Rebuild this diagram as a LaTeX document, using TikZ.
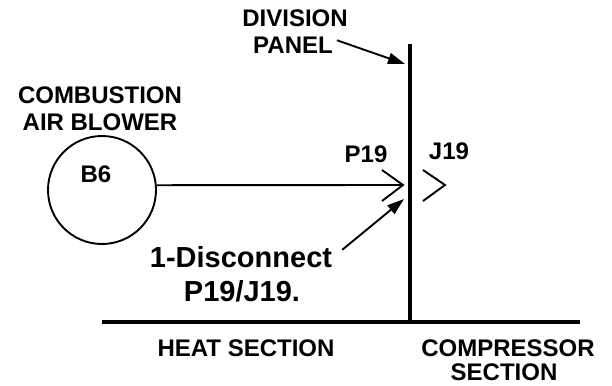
\documentclass[tikz,border=0pt]{standalone}
\usepackage{fontspec}
\setmainfont{Liberation Sans}
\usetikzlibrary{arrows.meta}
\tikzset{
  tag/.style={font=\fontsize{24}{27}\selectfont\bfseries, inner sep=0pt, anchor=base},
  bigtag/.style={font=\fontsize{29}{34}\selectfont\bfseries, inner sep=0pt, anchor=base},
  wire/.style={line width=1.9pt},
  wall/.style={line width=3.3pt},
  pointer/.style={wire, -{Triangle[length=17pt,width=11pt]}},
}
\begin{document}
\begin{tikzpicture}[x=1pt, y=-1pt]
    \useasboundingbox (0,0) rectangle (612,385);
    % panel and floor
    \coordinate (ptop) at (410,44);
    \coordinate (pbot) at (410,322);
    \coordinate (fl) at (102,322);
    \coordinate (fr) at (580,322);
    \draw[wall] (ptop) -- (pbot);
    \draw[wall] (fl) -- (fr);
    % blower
    \node[draw, wire, circle, minimum size=108pt, inner sep=0pt] (b6) at (102,190) {};
    \node[tag] (b6lbl) at (96,182) {B6};
    \node[tag] (comb) at (100,103) {COMBUSTION};
    \node[tag] (blower) at (100,130) {AIR BLOWER};
    % plug and jack
    \coordinate (ptip) at (403,185);
    \coordinate (jtip) at (445,185);
    \draw[wire] (b6.5) -- (ptip);
    \draw[wire] (ptip) ++(-21,-15) -- (ptip) -- ++(-21,16);
    \draw[wire] (jtip) ++(-22,-15) -- (jtip) -- ++(-22,16);
    \node[tag] (p19) at (366,162) {P19};
    \node[tag] (j19) at (449,159) {J19};
    % panel label
    \node[tag] (division) at (295,27) {DIVISION};
    \node[tag] (panel) at (293,54) {PANEL};
    \coordinate (pnltip) at (405,64);
    \draw[pointer] ([shift={(4,3)}]panel.north east) -- (pnltip);
    % step
    \node[bigtag] (disc1) at (241,267) {1-Disconnect};
    \node[bigtag] (disc2) at (242,301) {P19/J19.};
    \coordinate (disctip) at (404,199);
    \draw[pointer] ([shift={(10,4)}]disc1.north east) -- (disctip);
    % sections
    \node[tag] (heat) at (246,356) {HEAT SECTION};
    \node[tag] (comp) at (508,356) {COMPRESSOR};
    \node[tag] (compsec) at (504,380) {SECTION};
\end{tikzpicture}
\end{document}
